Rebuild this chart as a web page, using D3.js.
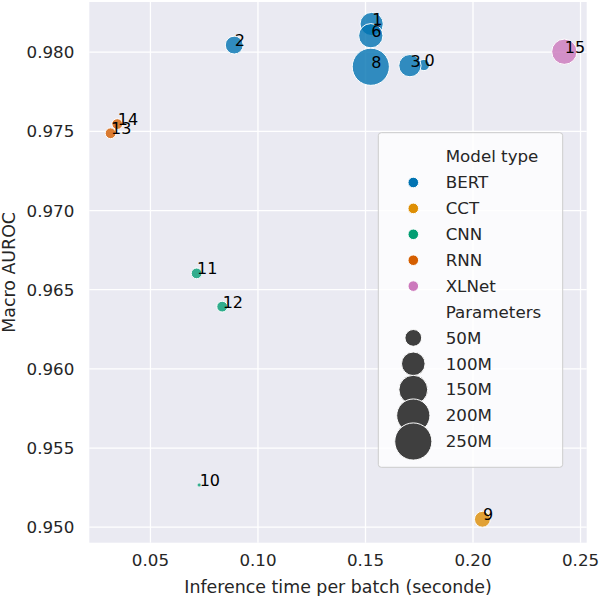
<!DOCTYPE html>
<html>
<head>
<meta charset="utf-8">
<script src="https://cdn.jsdelivr.net/npm/d3@7"></script>
<style>
  body { margin: 0; background: #fff; }
  text { font-family: "DejaVu Sans", sans-serif; fill: #262626; }
</style>
</head>
<body>
<div id="chart"></div>
<script>
// chart data
var modelIds = [0, 1, 2, 3, 6, 8, 9, 10, 11, 12, 13, 14, 15];
var modelTypes = ["BERT", "BERT", "BERT", "BERT", "BERT", "BERT", "CCT", "CNN", "CNN", "CNN", "RNN", "RNN", "XLNet"];
var inferenceTime = [0.1774, 0.1531, 0.0892, 0.1709, 0.1527, 0.1527, 0.2046, 0.0729, 0.0717, 0.0836, 0.0317, 0.0348, 0.2427];
var auroc = [0.97916, 0.98175, 0.98042, 0.97912, 0.98101, 0.97905, 0.95047, 0.95264, 0.96600, 0.96390, 0.97485, 0.97543, 0.98000];
var params = [22, 97, 57, 89, 106, 250, 45, 1, 20, 20, 20, 20, 115];

var typeNames = ["BERT", "CCT", "CNN", "RNN", "XLNet"];
var typeColors = ["#0173b2", "#de8f05", "#029e73", "#d55e00", "#cc78bc"];
var sizeLegend = [50, 100, 150, 200, 250];
var xTicks = [0.05, 0.10, 0.15, 0.20, 0.25];
var yTicks = [0.950, 0.955, 0.960, 0.965, 0.970, 0.975, 0.980];

var svgWidth = 600;
var svgHeight = 596;

var margin = { top: 2, right: 13.3, bottom: 53.3, left: 89.3 };
var width = svgWidth - margin.left - margin.right;
var height = svgHeight - margin.top - margin.bottom;

var svg = d3.select("#chart")
  .append("svg")
  .attr("width", svgWidth)
  .attr("height", svgHeight);

var chartGroup = svg.append("g")
  .attr("transform", `translate(${margin.left}, ${margin.top})`);

var data = modelIds.map(function(id, i) {
  return { id: id, type: modelTypes[i], time: inferenceTime[i], auroc: auroc[i], params: params[i] };
});

// scales
var xScale = d3.scaleLinear().domain([0.0218, 0.2531]).range([0, width]);
var yScale = d3.scaleLinear().domain([0.94899, 0.98314]).range([height, 0]);
var colorScale = d3.scaleOrdinal().domain(typeNames).range(typeColors);
// marker area grows linearly with parameter count
var areaScale = d3.scaleLinear().domain([1, 250]).range([3, 345]);
var radius = p => Math.sqrt(areaScale(p));

// background
chartGroup.append("rect")
  .attr("width", width)
  .attr("height", height)
  .attr("fill", "#eaeaf2");

// axes with white grid lines
var xAxis = chartGroup.append("g")
  .attr("transform", `translate(0, ${height})`)
  .call(d3.axisBottom(xScale).tickValues(xTicks).tickFormat(d3.format(".2f"))
    .tickSize(-height).tickPadding(11));

var yAxis = chartGroup.append("g")
  .call(d3.axisLeft(yScale).tickValues(yTicks).tickFormat(d3.format(".3f"))
    .tickSize(-width).tickPadding(15));

[xAxis, yAxis].forEach(function(ax) {
  ax.select(".domain").remove();
  ax.selectAll(".tick line").attr("stroke", "#ffffff").attr("stroke-width", 1.3);
  ax.selectAll(".tick text").attr("font-size", "16.7px").attr("fill", "#262626")
    .attr("font-family", "DejaVu Sans");
});
yAxis.selectAll(".tick text").attr("dy", "0.36em");

// points
chartGroup.selectAll("circle.pt")
  .data(data)
  .enter()
  .append("circle")
  .attr("class", "pt")
  .attr("cx", d => xScale(d.time))
  .attr("cy", d => yScale(d.auroc))
  .attr("r", d => radius(d.params))
  .attr("fill", d => colorScale(d.type))
  .attr("fill-opacity", 0.8)
  .attr("stroke", "#ffffff")
  .attr("stroke-width", d => d.params < 5 ? 0.3 : 1);

// model id annotations
chartGroup.selectAll("text.lbl")
  .data(data)
  .enter()
  .append("text")
  .attr("class", "lbl")
  .attr("x", d => xScale(d.time) + 0.5)
  .attr("y", d => yScale(d.auroc) + 1)
  .attr("font-size", "16px")
  .style("fill", "#000")
  .text(d => d.id);

// axis labels
svg.append("text")
  .attr("x", margin.left + width / 2)
  .attr("y", 593)
  .attr("text-anchor", "middle")
  .attr("font-size", "17.4px")
  .text("Inference time per batch (seconde)");

svg.append("text")
  .attr("transform", `translate(15, ${margin.top + height / 2}) rotate(-90)`)
  .attr("text-anchor", "middle")
  .attr("font-size", "17.4px")
  .text("Macro AUROC");

// legend
var legend = svg.append("g");
legend.append("rect")
  .attr("x", 378.3)
  .attr("y", 132.7)
  .attr("width", 184.4)
  .attr("height", 334.6)
  .attr("rx", 3)
  .attr("fill", "#ffffff")
  .attr("fill-opacity", 0.8)
  .attr("stroke", "#cccccc")
  .attr("stroke-width", 1);

var rowY = k => 162.3 + k * 25.9;
var textX = 445.7;
var markX = 413.3;

var legendRows = [{ label: "Model type" }]
  .concat(typeNames.map(t => ({ label: t, color: colorScale(t) })))
  .concat([{ label: "Parameters" }])
  .concat(sizeLegend.map(s => ({ label: s + "M", size: s })));

legendRows.forEach(function(row, k) {
  var y = rowY(k);
  if (row.color) {
    legend.append("circle")
      .attr("cx", markX).attr("cy", y - 5.7).attr("r", 5.3)
      .attr("fill", row.color).attr("stroke", "#fff").attr("stroke-width", 1);
  }
  if (row.size) {
    legend.append("circle")
      .attr("cx", markX).attr("cy", y - 5.7).attr("r", radius(row.size))
      .attr("fill", "#3f3f3f").attr("stroke", "#fff").attr("stroke-width", 1);
  }
  legend.append("text")
    .attr("x", textX)
    .attr("y", y)
    .attr("font-size", "16.7px")
    .text(row.label);
});
</script>
</body>
</html>
